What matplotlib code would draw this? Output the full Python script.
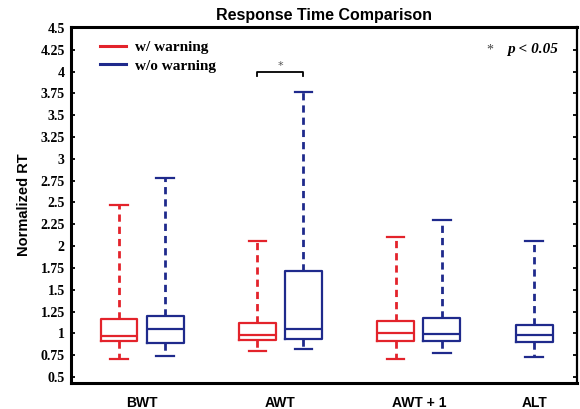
import numpy as np
import matplotlib
matplotlib.use("Agg")
import matplotlib.pyplot as plt
from matplotlib.lines import Line2D

# ── Data ─────────────────────────────────────────────────────────────────────
conditions = ["BWT", "AWT", "AWT + 1", "ALT"]

# w/ warning (no ALT condition)
warn_lo  = [0.71, 0.80, 0.71]
warn_q1  = [0.91, 0.92, 0.915]
warn_med = [0.975, 0.985, 1.00]
warn_q3  = [1.165, 1.125, 1.145]
warn_hi  = [2.47, 2.06, 2.11]

# w/o warning
nowarn_lo  = [0.74, 0.82, 0.78, 0.73]
nowarn_q1  = [0.89, 0.935, 0.915, 0.90]
nowarn_med = [1.05, 1.05, 0.99, 0.98]
nowarn_q3  = [1.20, 1.715, 1.18, 1.095]
nowarn_hi  = [2.78, 3.77, 2.30, 2.055]

y_ticks = np.arange(0.5, 4.51, 0.25)
sig_level = 4.0          # bracket height for AWT comparison

RED = "#e3232b"
BLUE = "#1f2a8c"

SERIF = "Liberation Serif"
SANS = "Liberation Sans"

# ── Layout ───────────────────────────────────────────────────────────────────
warn_pos = [1, 4, 7]
nowarn_pos = [2, 5, 8, 10]
label_pos = [1.5, 4.5, 7.5, 10]


def make_stats(lo, q1, med, q3, hi):
    return [dict(whislo=a, q1=b, med=c, q3=d, whishi=e, fliers=[])
            for a, b, c, d, e in zip(lo, q1, med, q3, hi)]


fig = plt.figure(figsize=(5.8, 4.09), dpi=100)
ax = fig.add_axes([0.1224, 0.063, 0.8724, 0.871])


def draw_boxes(stats, pos, color):
    line = dict(color=color, linewidth=1.6)
    ax.bxp(stats, positions=pos, widths=0.8, capwidths=0.38,
           showfliers=False, boxprops=line, medianprops=line,
           capprops=line,
           whiskerprops=dict(color=color, linewidth=2.0, linestyle=(0, (2.6, 1.8))))


draw_boxes(make_stats(warn_lo, warn_q1, warn_med, warn_q3, warn_hi), warn_pos, RED)
draw_boxes(make_stats(nowarn_lo, nowarn_q1, nowarn_med, nowarn_q3, nowarn_hi),
           nowarn_pos, BLUE)

ax.set_xlim(-0.04, 10.93)
ax.set_ylim(0.43, 4.51)

ax.set_xticks(label_pos)
ax.set_xticklabels(conditions, fontfamily=SANS, fontweight="bold", fontsize=10)
ax.tick_params(axis="x", length=0, pad=9)

ax.set_yticks(y_ticks)
ax.set_yticklabels([f"{v:g}" for v in y_ticks], fontfamily=SERIF,
                   fontweight="bold", fontsize=10)
ax.tick_params(axis="y", direction="in", left=True, right=True,
               length=3, width=1.3, pad=4.5)

for side in ("left", "bottom", "top"):
    ax.spines[side].set_linewidth(2.2)
ax.spines["right"].set_linewidth(1.6)

ax.set_ylabel("Normalized RT", fontfamily=SANS, fontweight="bold",
              fontsize=10.5, labelpad=7)
ax.set_title("Response Time Comparison", fontfamily=SANS, fontweight="bold",
             fontsize=11.5, pad=5)

# significance bracket between the AWT boxes
x0, x1 = warn_pos[1], nowarn_pos[1]
ax.plot([x0, x0, x1, x1], [sig_level - 0.05, sig_level, sig_level, sig_level - 0.05],
        color="black", linewidth=1.3)
ax.text((x0 + x1) / 2, sig_level + 0.01, "*", ha="center", va="bottom",
        fontsize=8, color="#555555")

# p-value note
ax.text(9.05, 4.25, "*", ha="center", va="center", fontsize=10,
        color="#444444", fontfamily=SERIF)
ax.text(9.41, 4.25, "p < 0.05", ha="left", va="center", fontsize=11,
        fontfamily=SERIF, fontweight="bold", fontstyle="italic")

handles = [Line2D([], [], color=RED, linewidth=2.2),
           Line2D([], [], color=BLUE, linewidth=2.2)]
leg = ax.legend(handles, ["w/ warning", "w/o warning"], loc="upper left",
                bbox_to_anchor=(0.057, 0.962), frameon=False, borderpad=0,
                borderaxespad=0, handlelength=1.7, handletextpad=0.6,
                labelspacing=0.3,
                prop=dict(family=SERIF, weight="bold", size=11))

fig.savefig("out.png", dpi=100)
